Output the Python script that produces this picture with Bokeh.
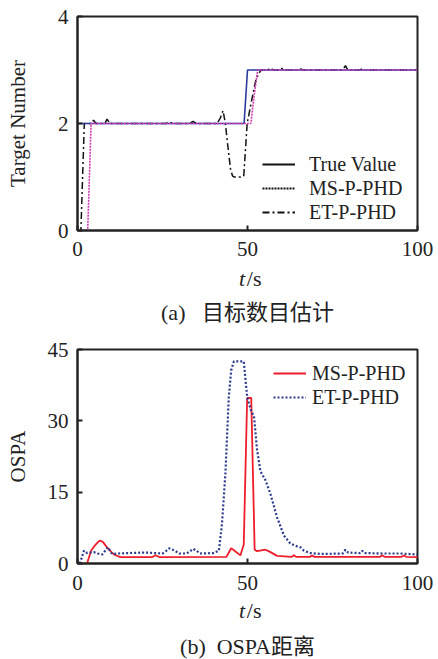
from bokeh.plotting import figure
from bokeh.models import FixedTicker, Label, Legend, LegendItem, Range1d
from bokeh.layouts import column
from bokeh.embed import file_html
from bokeh.resources import INLINE

SERIF = "Liberation Serif"
CAP_FONT = "'Liberation Serif', 'Noto Sans CJK SC'"

# ---------------- data: (a) target number ----------------
true_t = [0, 49, 50, 100]
true_v = [2, 2, 3, 3]

ms_num_t = [0, 3, 4, 51, 52, 53, 100]
ms_num_v = [0, 0, 2, 2, 2.55, 3, 3]

et_num_t = [0, 1, 2, 3, 4, 4.7, 5.5, 7, 8, 8.7, 9.5, 11, 26, 27, 28, 33, 34, 35,
            41, 42, 42.8, 43.5, 44, 45, 45.6, 46, 48, 48.9, 49.9, 51.4, 52.4, 53.3,
            54, 56, 56.8, 57.6, 59, 60.2, 61, 65, 65.6, 66.3, 78, 78.8, 79.5, 83,
            83.7, 84.4, 100]
et_num_v = [0, 0, 2, 2, 2, 2.06, 2, 2, 2, 2.08, 2, 2, 2, 2.03, 2, 2, 2.04, 2,
            2, 2.1, 2.24, 2.0, 1.7, 1.15, 1.02, 1.0, 1.0, 1.02, 2.0, 2.49, 2.8, 2.93,
            3.0, 3.0, 3.04, 3.0, 3.0, 3.03, 3.0, 3.0, 3.02, 3.0, 3.0, 3.08, 3.0, 3.0,
            3.02, 3.0, 3.0]

# ---------------- data: (b) OSPA ----------------
ms_ospa_t = [2.8, 4, 5, 6.3, 6.8, 7.5, 8.7, 10, 10.7, 12.6, 22, 23, 24, 43.8, 45.2,
             46, 47.9, 48.9, 49.9, 51.1, 52.1, 52.8, 55.3, 56.5, 58.7, 63, 63.6,
             64.3, 68.3, 69, 69.7, 89, 89.6, 90.3, 95.3, 96, 96.7, 100]
ms_ospa_v = [0, 2.7, 3.7, 4.7, 4.8, 4.5, 3.4, 2.4, 1.9, 1.35, 1.35, 1.75, 1.35, 1.4,
             3.2, 2.8, 1.7, 4.0, 34.8, 34.8, 2.9, 2.6, 2.9, 2.5, 1.6, 1.4, 1.75,
             1.4, 1.4, 1.65, 1.4, 1.4, 1.75, 1.4, 1.4, 1.7, 1.4, 1.35]

et_ospa_t = [0.7, 1.9, 2.8, 4.8, 6, 7.3, 8.9, 10.2, 12, 15, 20, 25, 26, 27, 28, 30,
             32, 33, 34, 35, 36, 40, 41.6, 42.5, 43.5, 44.5, 45.2, 46, 48.9, 49.9,
             51.1, 51.9, 52.8, 53.8, 55.3, 56.8, 58.7, 60.7, 62.6, 64.6, 65.6, 66.6,
             68.5, 71.5, 78, 78.8, 79.6, 83, 83.7, 84.4, 90, 95, 100]
et_ospa_v = [0, 2.7, 2.2, 2.4, 2.1, 1.9, 3.4, 2.0, 2.1, 2.2, 2.3, 2.1, 2.6, 3.2, 2.9,
             2.1, 2.1, 2.5, 3.1, 2.7, 2.1, 2.2, 2.7, 8.4, 18.9, 35, 40.6, 42.5, 42.5,
             35, 32, 31, 24, 19.4, 17.5, 14.5, 9.7, 5.9, 4.2, 3.6, 3.4, 2.7, 2.2, 2.0,
             2.1, 2.9, 2.3, 2.2, 2.7, 2.2, 2.1, 2.1, 1.9]

x_ticks = [0, 50, 100]
num_ticks = [0, 2, 4]
ospa_ticks = [0, 15, 30, 45]

W = 438
BL, BR = 77, 21


def style(p, yticks, ylabel, label_standoff, x_standoff):
    p.xgrid.visible = False
    p.ygrid.visible = False
    p.outline_line_color = "#222222"
    p.outline_line_width = 2
    p.background_fill_color = "white"
    p.border_fill_color = "white"
    p.xaxis.ticker = FixedTicker(ticks=x_ticks)
    p.yaxis.ticker = FixedTicker(ticks=yticks)
    for ax in (p.xaxis[0], p.yaxis[0]):
        ax.axis_line_color = "#222222"
        ax.axis_line_width = 2
        ax.major_tick_in = 5
        ax.major_tick_out = 0
        ax.major_tick_line_color = "#222222"
        ax.major_tick_line_width = 2
        ax.minor_tick_line_color = None
        ax.major_label_text_font = SERIF
        ax.major_label_text_font_size = "21px"
        ax.major_label_text_color = "#222222"
    p.xaxis.major_label_standoff = x_standoff
    p.yaxis.major_label_standoff = 9
    p.yaxis.axis_label = ylabel
    p.yaxis.axis_label_text_font = SERIF
    p.yaxis.axis_label_text_font_size = "21px"
    p.yaxis.axis_label_text_font_style = "normal"
    p.yaxis.axis_label_text_color = "#222222"
    p.yaxis.axis_label_standoff = label_standoff


def style_legend(lg, standoff):
    lg.border_line_alpha = 0
    lg.background_fill_alpha = 0
    lg.padding = 0
    lg.margin = 0
    lg.spacing = 0
    lg.glyph_width = 33
    lg.glyph_height = 24
    lg.label_height = 24
    lg.label_standoff = standoff
    lg.label_text_font = SERIF
    lg.label_text_font_size = "20px"
    lg.label_text_color = "#222222"


def caption_fig(h, y_unit, y_cap, caption):
    c = figure(width=W, height=h, x_range=Range1d(0, 100), y_range=Range1d(0, h),
               x_axis_location=None, y_axis_location=None,
               output_backend="svg", toolbar_location=None,
               min_border_left=BL, min_border_right=BR, min_border_top=0,
               min_border_bottom=0)
    c.outline_line_color = None
    c.grid.visible = False
    c.add_layout(Label(x=49.3, y=y_unit, text="t", text_font=SERIF, text_font_size="22px",
                       text_font_style="italic", text_align="right",
                       text_baseline="middle", text_color="#222222"))
    c.add_layout(Label(x=49.8, y=y_unit, text="/s", text_font=SERIF, text_font_size="22px",
                       text_align="left", text_baseline="middle", text_color="#222222"))
    c.add_layout(Label(x=50, y=y_cap, text=caption, text_font=CAP_FONT,
                       text_font_size="22px", text_align="center",
                       text_baseline="middle", text_color="#222222"))
    return c


# ---------------- figure (a) ----------------
p1 = figure(width=W, height=262, x_range=Range1d(0, 100), y_range=Range1d(0, 4),
            output_backend="svg", toolbar_location=None,
            min_border_left=BL, min_border_right=BR, min_border_top=16,
            min_border_bottom=32)
style(p1, num_ticks, "Target Number", 25, 11)

p1.line(et_num_t, et_num_v, line_color="#111111", line_width=1.5, line_dash="7 3 2 3")
p1.line(true_t, true_v, line_color="#2b3a9c", line_width=1.6)
p1.line(ms_num_t, ms_num_v, line_color="#d13bb0", line_width=1.6, line_dash="2 1")

off_x = [-20, -10]
off_y = [-5, -5]
lg1 = p1.line(off_x, off_y, line_color="#111111", line_width=1.8)
lg2 = p1.line(off_x, off_y, line_color="#111111", line_width=1.8, line_dash="2 1")
lg3 = p1.line(off_x, off_y, line_color="#111111", line_width=1.8, line_dash="7 3 2 3")
leg1 = Legend(items=[LegendItem(label="True Value", renderers=[lg1]),
                     LegendItem(label="MS-P-PHD", renderers=[lg2]),
                     LegendItem(label="ET-P-PHD", renderers=[lg3])],
              location=(185, 6))
style_legend(leg1, 14)
p1.add_layout(leg1)

c1 = caption_fig(68, 52, 18, "(a)\u2002 目标数目估计")

# ---------------- figure (b) ----------------
p2 = figure(width=W, height=265, x_range=Range1d(0, 100), y_range=Range1d(0, 45),
            output_backend="svg", toolbar_location=None,
            min_border_left=BL, min_border_right=BR, min_border_top=19,
            min_border_bottom=32)
style(p2, ospa_ticks, "OSPA", 15, 12)

r_ms = p2.line(ms_ospa_t, ms_ospa_v, line_color="#ee1d2b", line_width=1.8)
r_et = p2.line(et_ospa_t, et_ospa_v, line_color="#2b3a8f", line_width=2.2, line_dash="2 2")
leg2 = Legend(items=[LegendItem(label="MS-P-PHD", renderers=[r_ms]),
                     LegendItem(label="ET-P-PHD", renderers=[r_et])],
              location=(196, 154))
style_legend(leg2, 6)
p2.add_layout(leg2)

c2 = caption_fig(64, 49, 13, "(b)\u2002OSPA距离")

layout = column(p1, c1, p2, c2)
open("out.html", "w").write(file_html(layout, INLINE))
